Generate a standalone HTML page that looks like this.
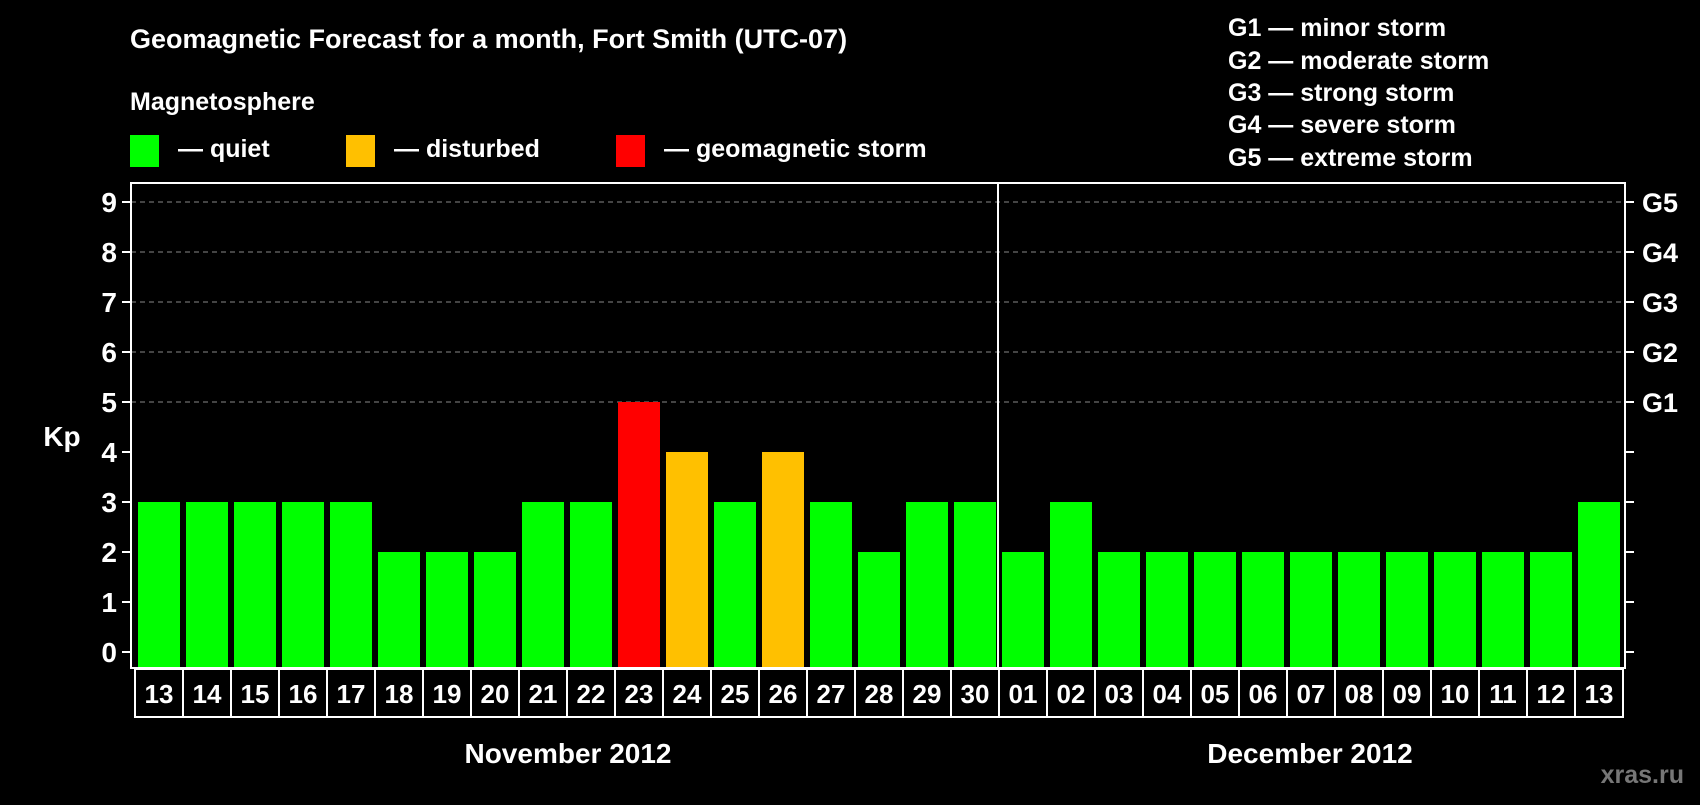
<!DOCTYPE html>
<html><head><meta charset="utf-8"><style>
body{margin:0;background:#000;width:1700px;height:800px;overflow:hidden}
svg text{font-family:"Liberation Sans",Arial,sans-serif;font-weight:bold;fill:#fff}
</style></head><body>
<svg id="c" width="1700" height="800" xmlns="http://www.w3.org/2000/svg">
<text x="130" y="48" font-size="27">Geomagnetic Forecast for a month, Fort Smith (UTC-07)</text>
<text x="130" y="110" font-size="25">Magnetosphere</text>
<g><rect x="130" y="135" width="29" height="32" fill="#00ff00"/><text x="178" y="157" font-size="25">— quiet</text></g>
<g><rect x="346" y="135" width="29" height="32" fill="#ffc000"/><text x="394" y="157" font-size="25">— disturbed</text></g>
<g><rect x="616" y="135" width="29" height="32" fill="#ff0000"/><text x="664" y="157" font-size="25">— geomagnetic storm</text></g>
<g font-size="25">
<text x="1228" y="36">G1 — minor storm</text>
<text x="1228" y="69">G2 — moderate storm</text>
<text x="1228" y="101">G3 — strong storm</text>
<text x="1228" y="133">G4 — severe storm</text>
<text x="1228" y="166">G5 — extreme storm</text>
</g>
<text x="62" y="446" font-size="28" text-anchor="middle">Kp</text>
<g id="grid"></g><g id="bars"></g><g id="axes"></g><g id="labels"></g>
<text x="568" y="763" font-size="28" text-anchor="middle">November 2012</text>
<text x="1310" y="763" font-size="28" text-anchor="middle">December 2012</text>
<text x="1684" y="783" font-size="25" fill="#777" style="fill:#777" text-anchor="end">xras.ru</text>
</svg>
<script>
const days=["13","14","15","16","17","18","19","20","21","22","23","24","25","26","27","28","29","30","01","02","03","04","05","06","07","08","09","10","11","12","13"];
const kp=[3,3,3,3,3,2,2,2,3,3,5,4,3,4,3,2,3,3,2,3,2,2,2,2,2,2,2,2,2,2,3];
const yTicks=[0,1,2,3,4,5,6,7,8,9];
const gLabels=["G1","G2","G3","G4","G5"];
const monthSplit=18;
const NS="http://www.w3.org/2000/svg";
const L=131,R=1625,T=183,B=668,Y0=652,UNIT=50,SLOT=48,X0=135;
const y=v=>Y0-v*UNIT;
const x=i=>X0+i*SLOT;
function mk(tag,attrs,parent){const e=document.createElementNS(NS,tag);for(const k in attrs)e.setAttribute(k,attrs[k]);document.getElementById(parent).appendChild(e);return e;}
yTicks.forEach(v=>{
 if(v>=5){const g=mk('line',{x1:L,x2:R,y1:y(v),y2:y(v),stroke:'#888','stroke-dasharray':'5,4','stroke-width':1},'grid');
 
 }
 const t=mk('line',{x1:L-9,x2:L,y1:y(v),y2:y(v),stroke:'#fff','stroke-width':2},'axes');
 
 
 const t2=mk('line',{x1:R,x2:R+9,y1:y(v),y2:y(v),stroke:'#fff','stroke-width':2},'axes');
 
 
 const lb=mk('text',{x:117,y:y(v)+10,'font-size':28,'text-anchor':'end'},'axes');lb.textContent=v;
 
 
});
gLabels.forEach((g,i)=>{const lb=mk('text',{x:1642,y:y(5+i)+10,'font-size':27},'axes');lb.textContent=g;
 
 });
kp.forEach((v,i)=>{
 const col=v>=5?'#ff0000':(v>=4?'#ffc000':'#00ff00');
 const b=mk('rect',{x:x(i)+3,y:y(v),width:42,height:B-y(v),fill:col},'bars');
 
 
 const bx=mk('rect',{x:x(i),y:B+1,width:SLOT,height:48,fill:'none',stroke:'#fff','stroke-width':2},'labels');
 
 
 const t=mk('text',{x:x(i)+SLOT/2,y:B+35,'font-size':26,'text-anchor':'middle'},'labels');t.textContent=days[i];
 
 
});
const fr=mk('rect',{x:L,y:T,width:R-L,height:B-T,fill:'none',stroke:'#fff','stroke-width':2},'axes');


const sp=mk('line',{x1:x(monthSplit)-1,x2:x(monthSplit)-1,y1:T,y2:B,stroke:'#fff','stroke-width':2},'axes');


</script>
</body></html>
